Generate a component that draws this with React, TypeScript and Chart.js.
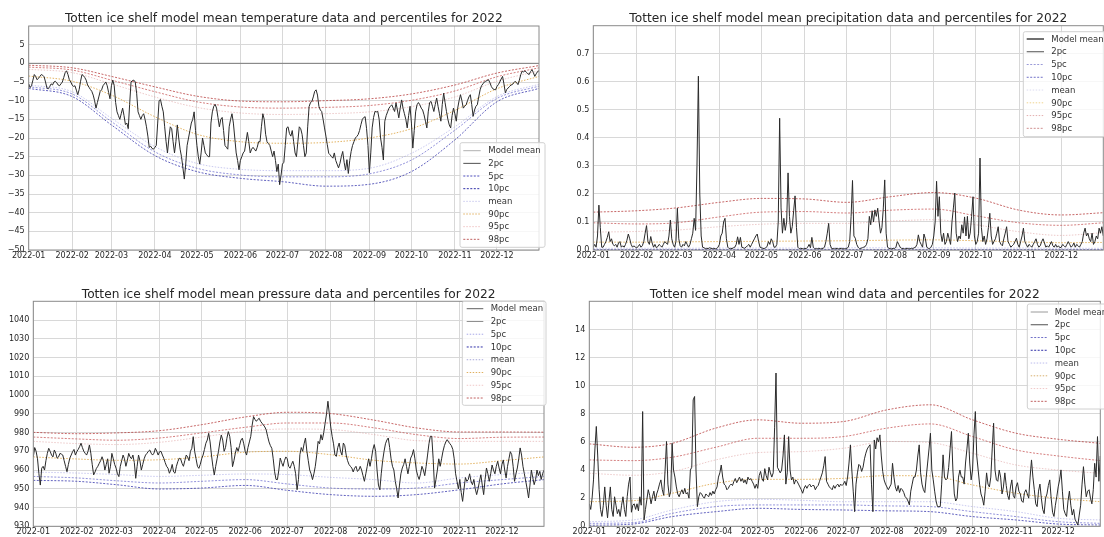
import React, { useEffect, useRef } from 'react';
import { Chart, registerables } from 'chart.js';

Chart.register(...registerables);

// ---- shared axis data ----
const MONTH_DAYS = [0, 31, 59, 90, 120, 151, 181, 212, 243, 273, 304, 334];
const MONTH_LABELS = ['2022-01', '2022-02', '2022-03', '2022-04', '2022-05', '2022-06', '2022-07', '2022-08', '2022-09', '2022-10', '2022-11', '2022-12'];
// days at which the climatology curves are sampled (1st of each month + 31 Dec)
const CURVE_DAYS = [0, 31, 59, 90, 120, 151, 181, 212, 243, 273, 304, 334, 364];
const LEGEND_LABELS = ['Model mean', '2pc', '5pc', '10pc', 'mean', '90pc', '95pc', '98pc'];

// ---- temperature ----
const TEMP_TICKS = [5, 0, -5, -10, -15, -20, -25, -30, -35, -40, -45, -50];
const TEMP_DAILY = [
  -5.5, -6.5, -6.0, -4.5, -3.0, -3.5, -4.4, -4.0, -3.5, -3.0,
  -3.2, -3.6, -5.0, -6.6, -6.8, -6.2, -5.5, -5.8, -5.0, -4.8,
  -5.2, -5.8, -6.0, -5.5, -5.0, -3.8, -2.5, -2.0, -3.0, -4.4,
  -5.0, -5.8, -6.2, -6.0, -7.2, -8.4, -7.0, -4.8, -3.0, -3.3,
  -3.8, -4.5, -5.8, -6.4, -7.0, -7.5, -8.5, -10.0, -12.0, -10.5,
  -9.0, -7.5, -7.1, -6.0, -5.5, -5.0, -6.0, -7.8, -9.5, -6.0,
  -4.5, -6.0, -10.5, -13.0, -14.0, -15.0, -13.5, -12.0, -14.0, -16.4,
  -16.0, -17.5, -11.0, -5.0, -4.6, -4.5, -5.0, -8.0, -13.0, -14.0,
  -15.0, -14.0, -13.5, -15.0, -17.0, -19.5, -22.5, -22.2, -22.8, -23.0,
  -22.5, -22.0, -16.0, -10.0, -9.7, -11.5, -13.0, -17.0, -21.0, -24.0,
  -20.0, -17.0, -17.5, -21.0, -24.0, -21.0, -16.5, -20.0, -23.0, -25.0,
  -28.0, -31.0, -27.0, -22.0, -20.0, -18.0, -16.0, -15.0, -13.0, -18.0,
  -22.0, -25.0, -27.0, -24.0, -20.0, -22.0, -24.0, -24.5, -25.0, -25.0,
  -16.0, -13.0, -11.5, -11.0, -12.0, -14.5, -17.0, -15.0, -14.5, -18.0,
  -22.0, -22.5, -23.0, -17.0, -15.0, -13.5, -16.0, -20.0, -24.0, -26.0,
  -28.5, -26.0, -25.0, -24.0, -23.5, -21.0, -18.5, -21.0, -24.0, -23.0,
  -22.5, -23.0, -23.5, -22.5, -21.0, -21.0, -17.0, -13.5, -15.0, -19.0,
  -21.0, -21.5, -22.0, -23.5, -25.0, -23.5, -26.0, -29.0, -27.0, -32.5,
  -30.0, -27.0, -26.5, -22.0, -17.3, -17.0, -18.8, -19.5, -18.0, -21.0,
  -24.0, -25.0, -21.0, -17.0, -17.5, -19.0, -22.0, -25.0, -24.0, -17.0,
  -11.6, -10.5, -10.2, -9.0, -7.5, -7.1, -8.5, -11.5, -12.5, -12.9,
  -15.0, -17.3, -19.5, -21.8, -24.1, -24.5, -25.0, -25.4, -24.0, -26.0,
  -27.0, -28.0, -26.8, -25.0, -23.6, -26.5, -28.6, -25.8, -29.5, -26.0,
  -23.6, -22.0, -21.0, -20.0, -19.6, -19.1, -18.0, -16.4, -15.0, -14.5,
  -14.3, -17.5, -22.0, -29.3, -24.0, -17.3, -14.5, -12.9, -13.0, -12.9,
  -15.0, -20.0, -22.5, -25.9, -15.5, -14.0, -13.0, -12.0, -11.5, -11.1,
  -12.0, -12.9, -10.6, -12.5, -14.6, -12.0, -9.8, -12.0, -13.5, -15.0,
  -17.3, -14.0, -11.5, -16.0, -22.7, -18.0, -13.0, -11.1, -10.5, -11.1,
  -12.0, -12.5, -13.8, -15.5, -17.3, -13.0, -10.5, -10.2, -11.5, -12.9,
  -11.0, -9.3, -11.5, -13.5, -15.5, -11.0, -8.0, -10.5, -12.9, -15.0,
  -16.5, -17.3, -14.0, -12.0, -13.5, -15.5, -12.0, -10.0, -8.4, -10.0,
  -12.0, -11.5, -11.1, -10.0, -9.0, -8.4, -11.0, -14.2, -12.5, -11.5,
  -11.1, -9.0, -7.1, -6.0, -5.5, -5.0, -4.8, -4.6, -4.4, -5.2,
  -6.2, -6.8, -7.0, -7.1, -6.2, -5.7, -5.0, -4.2, -3.5, -5.5,
  -7.9, -7.0, -6.6, -6.2, -5.8, -5.7, -5.2, -4.8, -5.2, -5.7,
  -4.5, -3.0, -2.1, -2.3, -2.0, -2.4, -2.8, -3.0, -2.2, -1.7,
  -2.5, -3.5, -2.8, -2.2, -2.0,
];
const TEMP_P2 = [-6.7, -8.9, -16.5, -24.7, -29.0, -30.8, -31.7, -32.9, -32.4, -29.0, -20.5, -10.3, -6.7];
const TEMP_P5 = [-6.25, -8.2, -15.6, -23.7, -28.1, -29.9, -30.4, -30.4, -29.6, -25.9, -17.9, -9.4, -6.1];
const TEMP_P10 = [-5.8, -7.6, -14.7, -22.3, -26.8, -28.4, -28.75, -28.75, -28.1, -24.1, -17.0, -8.9, -5.6];
const TEMP_MEAN = [-3.4, -4.8, -8.5, -14.3, -19.0, -21.0, -21.4, -21.2, -20.0, -17.5, -12.6, -6.8, -3.5];
const TEMP_P90 = [-1.6, -2.5, -5.5, -9.0, -11.8, -13.3, -13.7, -13.5, -13.0, -11.6, -9.0, -4.8, -2.0];
const TEMP_P95 = [-1.0, -1.8, -4.5, -7.6, -10.3, -11.7, -12.0, -11.8, -11.3, -9.9, -7.4, -3.6, -1.2];
const TEMP_P98 = [-0.5, -1.2, -3.5, -6.3, -8.8, -10.1, -10.3, -10.0, -9.5, -8.2, -5.8, -2.6, -0.6];

// ---- precipitation ----
const PRECIP_TICKS = [0, 0.1, 0.2, 0.3, 0.4, 0.5, 0.6, 0.7];
const PRECIP_DAILY = [
  0.01, 0.02, 0.01, 0.05, 0.16, 0.08, 0.01, 0.01, 0.02, 0.03,
  0.045, 0.065, 0.03, 0.04, 0.02, 0.015, 0.02, 0.01, 0.025, 0.03,
  0.01, 0.015, 0.01, 0.02, 0.035, 0.057, 0.04, 0.02, 0.01, 0.015,
  0.01, 0.008, 0.012, 0.02, 0.01, 0.015, 0.03, 0.06, 0.087, 0.03,
  0.02, 0.048, 0.025, 0.01, 0.02, 0.008, 0.012, 0.02, 0.015, 0.01,
  0.02, 0.03, 0.025, 0.02, 0.05, 0.107, 0.04, 0.02, 0.01, 0.03,
  0.149, 0.04, 0.015, 0.01, 0.02, 0.015, 0.03, 0.02, 0.01, 0.02,
  0.04, 0.06, 0.113, 0.07, 0.3, 0.62, 0.2, 0.05, 0.01, 0.008,
  0.005, 0.006, 0.005, 0.008, 0.006, 0.005, 0.006, 0.004, 0.005, 0.01,
  0.02, 0.05, 0.06, 0.1, 0.113, 0.04, 0.01, 0.005, 0.006, 0.005,
  0.008, 0.01, 0.02, 0.047, 0.02, 0.045, 0.01, 0.008, 0.006, 0.01,
  0.015, 0.02, 0.01, 0.02, 0.03, 0.04, 0.05, 0.057, 0.03, 0.01,
  0.008, 0.006, 0.005, 0.008, 0.012, 0.03, 0.02, 0.04, 0.03, 0.01,
  0.01, 0.02, 0.1, 0.47, 0.15, 0.06, 0.113, 0.07, 0.1, 0.275,
  0.12, 0.06, 0.083, 0.14, 0.193, 0.08, 0.01, 0.005, 0.006, 0.005,
  0.004, 0.006, 0.005, 0.01, 0.02, 0.008, 0.045, 0.01, 0.005, 0.004,
  0.005, 0.006, 0.004, 0.005, 0.006, 0.01, 0.03, 0.06, 0.095, 0.02,
  0.006, 0.005, 0.004, 0.006, 0.005, 0.004, 0.005, 0.006, 0.005, 0.004,
  0.005, 0.006, 0.01, 0.03, 0.12, 0.248, 0.05, 0.042, 0.02, 0.01,
  0.005, 0.006, 0.008, 0.01, 0.012, 0.02, 0.04, 0.12, 0.09, 0.14,
  0.1, 0.143, 0.12, 0.149, 0.1, 0.06, 0.08, 0.15, 0.25, 0.06,
  0.01, 0.006, 0.005, 0.004, 0.006, 0.005, 0.01, 0.03, 0.02, 0.01,
  0.006, 0.005, 0.004, 0.005, 0.006, 0.005, 0.004, 0.006, 0.005, 0.008,
  0.01, 0.02, 0.054, 0.03, 0.02, 0.01, 0.057, 0.04, 0.01, 0.006,
  0.005, 0.01, 0.02, 0.05, 0.1, 0.245, 0.12, 0.19, 0.06, 0.03,
  0.06, 0.02, 0.03, 0.06, 0.04, 0.02, 0.1, 0.15, 0.203, 0.06,
  0.03, 0.05, 0.04, 0.09, 0.06, 0.118, 0.05, 0.12, 0.04, 0.06,
  0.12, 0.19, 0.05, 0.02, 0.03, 0.06, 0.328, 0.08, 0.03, 0.05,
  0.02, 0.04, 0.08, 0.131, 0.05, 0.02, 0.03, 0.04, 0.06, 0.083,
  0.03, 0.02, 0.015, 0.04, 0.06, 0.083, 0.03, 0.02, 0.01, 0.015,
  0.02, 0.03, 0.042, 0.02, 0.01, 0.03, 0.05, 0.078, 0.03, 0.02,
  0.01, 0.02, 0.015, 0.01, 0.02, 0.03, 0.04, 0.02, 0.01, 0.015,
  0.03, 0.04, 0.025, 0.01, 0.015, 0.01, 0.02, 0.03, 0.015, 0.01,
  0.02, 0.01, 0.015, 0.008, 0.01, 0.02, 0.015, 0.01, 0.02, 0.03,
  0.02, 0.01, 0.015, 0.025, 0.01, 0.02, 0.015, 0.01, 0.02, 0.03,
  0.06, 0.078, 0.05, 0.06, 0.04, 0.03, 0.06, 0.02, 0.03, 0.05,
  0.04, 0.078, 0.06, 0.083, 0.05,
];
const PRECIP_P2 = [0, 0, 0, 0, 0, 0, 0, 0, 0, 0, 0, 0, 0];
const PRECIP_P5 = [0.002, 0.002, 0.002, 0.002, 0.002, 0.002, 0.002, 0.002, 0.002, 0.002, 0.002, 0.002, 0.002];
const PRECIP_P10 = [0.006, 0.006, 0.006, 0.007, 0.007, 0.007, 0.008, 0.008, 0.008, 0.007, 0.007, 0.006, 0.006];
const PRECIP_MEAN = [0.028, 0.028, 0.029, 0.03, 0.031, 0.032, 0.033, 0.035, 0.036, 0.033, 0.029, 0.026, 0.027];
const PRECIP_P90 = [0.064, 0.066, 0.071, 0.083, 0.092, 0.095, 0.095, 0.103, 0.108, 0.09, 0.065, 0.052, 0.062];
const PRECIP_P95 = [0.097, 0.093, 0.097, 0.118, 0.135, 0.137, 0.132, 0.142, 0.146, 0.122, 0.097, 0.088, 0.097];
const PRECIP_P98 = [0.135, 0.14, 0.15, 0.17, 0.184, 0.182, 0.17, 0.19, 0.205, 0.185, 0.142, 0.125, 0.133];

// ---- pressure ----
const PRESSURE_TICKS = [930, 940, 950, 960, 970, 980, 990, 1000, 1010, 1020, 1030, 1040];
const PRESSURE_DAILY = [
  967, 972, 970, 966, 958, 952, 961, 962, 960, 965,
  968.9, 971.6, 970, 968, 967, 970.7, 969, 966.3, 967, 968.9,
  968.5, 968, 965, 962, 959.1, 963, 966.3, 968, 969.8, 971,
  968, 969.8, 971, 972.5, 974.3, 972, 970, 968.9, 968, 970,
  973.4, 969, 963, 957.4, 959, 960.9, 962, 963.6, 965, 967.1,
  965, 960, 963, 966, 958.3, 962, 968.9, 966, 963, 961,
  958, 956.5, 962, 965, 968, 966, 962, 965, 968.9, 967,
  966, 968, 964, 955.6, 962, 968, 965, 960, 963, 966,
  968, 968.9, 970, 970.7, 969, 968, 969, 971.6, 970, 968,
  969.8, 970, 968, 966.3, 964, 962, 961, 958.3, 960, 963,
  959, 958.3, 962, 964.5, 966.3, 966, 963.6, 962, 965, 968,
  967, 965, 970, 971.6, 977.8, 970, 966, 962, 960.9, 963,
  966, 968, 971, 974.3, 976, 979.6, 975, 968, 962, 957.4,
  962, 966, 970, 975, 978.7, 976, 970, 972, 977, 980.5,
  978, 972, 961.8, 965, 969, 972, 970, 973, 976, 977,
  974, 970, 968, 972, 975, 978, 984, 988.5, 987, 986,
  987, 987.6, 986, 985, 984, 983, 981.4, 978, 975, 973,
  971.6, 966, 959.1, 955, 954.9, 960, 966.4, 964, 962, 965,
  967, 966, 962, 961, 963, 964.7, 962, 958, 949.5, 955,
  968.2, 972, 970, 974, 977.1, 970, 965, 960, 958, 954.9,
  958, 962, 968, 975.3, 974, 978.9, 976, 980, 985, 990,
  996.7, 990, 983, 978, 974, 968, 967.3, 972, 974.4, 970,
  968, 974.4, 973, 968, 965, 963, 962, 961.1, 959, 961,
  962, 959.3, 960, 962, 960, 957, 954, 958, 962, 966,
  962, 966, 970.9, 973.6, 970, 960, 952, 949.5, 958, 965,
  970, 974, 976, 977.1, 972, 966, 962, 960, 954, 950,
  945.1, 952, 958, 961.1, 963, 966, 962, 958, 962, 966.4,
  968, 970.9, 966, 960, 957, 955, 958, 962, 960, 957,
  962, 968, 974, 978, 978, 966, 950.4, 955, 960, 966,
  962, 966, 970, 973, 975, 976.2, 975, 974, 973, 971,
  966, 958, 954, 950, 955, 948, 943.3, 950, 956, 954,
  954.9, 958, 954, 952.2, 955, 950, 946.9, 950, 954, 957.5,
  952, 946.9, 955, 961.1, 958, 954, 958, 962.7, 960, 958,
  962, 964.7, 961.1, 958, 962.9, 965.4, 960, 955.8, 962, 966,
  969.8, 968.2, 962, 954, 958, 961.1, 966, 971.8, 968, 962,
  958, 954, 950, 945.1, 952, 960, 956, 952.2, 955, 960,
  957, 959.3, 955, 958, 960,
];
const PRESSURE_P2 = [954.5, 954.0, 952.2, 949.9, 950.4, 951.8, 949.2, 946.9, 946.0, 946.9, 949.5, 952.6, 954.9];
const PRESSURE_P5 = [956.6, 955.8, 954.3, 953.1, 954.0, 954.9, 952.6, 950.4, 949.9, 950.4, 953.1, 954.9, 956.6];
const PRESSURE_P10 = [958.9, 958.4, 957.6, 956.6, 957.2, 957.9, 957.6, 956.1, 954.9, 953.1, 955.8, 957.6, 958.9];
const PRESSURE_MEAN = [967.0, 965.9, 965.2, 965.5, 967.0, 969.5, 970.0, 968.2, 965.2, 963.8, 963.2, 965.0, 967.0];
const PRESSURE_P90 = [975.3, 974.1, 973.6, 974.8, 977.6, 980.7, 981.9, 981.6, 978.9, 975.7, 975.3, 975.3, 975.3];
const PRESSURE_P95 = [977.6, 976.6, 975.9, 977.1, 979.8, 982.8, 985.1, 985.1, 982.5, 978.9, 976.8, 977.5, 977.6];
const PRESSURE_P98 = [980.1, 979.4, 979.8, 981.0, 984.2, 988.3, 990.8, 990.1, 986.6, 982.5, 980.3, 980.3, 980.2];

// ---- wind ----
const WIND_TICKS = [0, 2, 4, 6, 8, 10, 12, 14];
const WIND_DAILY = [
  1.6, 1.2, 2.0, 3.3, 5.5, 7.1, 5.0, 2.6, 1.2, 0.7,
  1.5, 2.8, 1.5, 0.6, 1.8, 2.8, 1.2, 0.7, 2.1, 1.5,
  0.9, 1.2, 0.7, 1.5, 2.1, 1.2, 0.7, 2.1, 3.0, 3.5,
  1.0, 1.5, 1.6, 1.2, 1.6, 1.1, 2.1, 1.5, 8.16, 0.45,
  1.2, 1.9, 2.6, 2.2, 1.6, 2.1, 2.5, 1.8, 2.3, 2.6,
  3.0, 3.3, 2.6, 2.2, 4.0, 6.03, 3.0, 2.1, 2.5, 5.9,
  4.0, 3.5, 2.8, 2.3, 2.1, 2.4, 2.6, 2.3, 2.7, 2.3,
  2.4, 2.0, 4.0, 4.2, 8.99, 9.23, 4.0, 1.4, 2.1, 2.4,
  2.3, 2.1, 2.0, 2.3, 2.2, 2.1, 2.4, 2.2, 2.5, 2.3,
  2.6, 2.8, 3.5, 3.8, 4.36, 3.5, 3.0, 2.9, 2.6, 2.7,
  2.9, 3.0, 2.9, 3.2, 3.4, 3.1, 3.3, 3.5, 3.2, 3.4,
  3.1, 3.3, 3.0, 3.5, 3.3, 3.4, 3.2, 3.0, 2.7, 3.0,
  2.7, 3.6, 3.9, 3.4, 3.2, 4.1, 3.6, 3.3, 4.2, 3.8,
  3.5, 3.8, 7.0, 10.9, 4.2, 4.0, 3.8, 4.0, 5.0, 6.5,
  3.0, 3.8, 6.38, 4.0, 3.3, 3.5, 3.0, 3.3, 3.2, 3.0,
  2.8, 2.6, 2.35, 2.7, 2.9, 2.7, 2.9, 3.0, 2.8, 2.9,
  2.9, 2.6, 2.8, 2.9, 3.2, 3.5, 3.8, 4.3, 4.96, 3.2,
  3.0, 2.8, 2.7, 2.6, 2.9, 2.7, 2.9, 3.0, 2.8, 3.0,
  2.9, 3.0, 3.2, 2.9, 3.5, 4.5, 5.79, 4.0, 2.5, 1.04,
  3.0, 3.8, 4.4, 4.3, 3.9, 4.2, 4.8, 5.2, 5.5, 5.67,
  5.8, 3.0, 1.04, 6.14, 5.5, 6.3, 6.0, 6.5, 5.0, 3.9,
  3.3, 3.0, 2.8, 2.6, 2.8, 3.0, 4.48, 3.5, 2.8, 2.5,
  2.9, 2.4, 2.7, 2.6, 2.4, 2.1, 2.0, 1.8, 1.52, 2.5,
  3.0, 3.5, 3.5, 4.0, 5.0, 5.79, 3.8, 3.0, 2.6, 2.4,
  3.5, 4.5, 5.5, 6.62, 4.0, 3.3, 2.5, 1.8, 1.4, 1.4,
  1.4, 3.0, 5.08, 3.5, 3.3, 3.4, 4.2, 5.5, 6.74, 4.0,
  2.3, 1.8, 2.0, 3.5, 4.0, 3.5, 3.5, 3.0, 4.5, 5.5,
  6.62, 4.5, 3.3, 4.0, 6.5, 8.16, 5.0, 4.0, 3.0, 2.3,
  2.0, 1.5, 2.5, 3.8, 3.0, 2.8, 3.5, 5.5, 7.33, 4.0,
  3.3, 3.2, 4.0, 3.5, 2.3, 2.8, 3.8, 2.9, 2.2, 1.9,
  2.8, 3.3, 2.2, 2.0, 2.8, 3.1, 2.5, 2.3, 1.8, 1.7,
  2.4, 2.6, 2.3, 2.0, 3.5, 4.72, 3.5, 2.6, 1.6, 1.4,
  2.5, 3.0, 2.0, 1.2, 0.9, 2.0, 2.3, 2.9, 3.3, 2.0,
  1.0, 0.7, 1.5, 2.1, 2.8, 3.3, 4.01, 2.5, 1.2, 0.9,
  0.7, 1.8, 2.5, 1.5, 0.8, 1.2, 0.5, 0.3, 0.09, 0.8,
  1.5, 3.0, 4.24, 3.0, 2.1, 2.5, 2.6, 2.0, 1.6, 2.6,
  4.48, 3.5, 6.38, 3.2, 5.0,
];
const WIND_P2 = [0.07, 0.16, 0.69, 1.04, 1.28, 1.2, 1.16, 1.1, 1.04, 0.69, 0.45, 0.16, 0.09];
const WIND_P5 = [0.21, 0.26, 0.92, 1.4, 1.52, 1.52, 1.52, 1.45, 1.4, 1.04, 0.69, 0.33, 0.21];
const WIND_P10 = [0.33, 0.45, 1.16, 1.75, 1.92, 1.85, 1.75, 1.75, 1.75, 1.4, 1.04, 0.57, 0.45];
const WIND_MEAN = [1.75, 1.82, 2.35, 3.06, 3.34, 3.34, 3.41, 3.6, 3.58, 2.94, 2.35, 1.99, 1.75];
const WIND_P90 = [3.77, 3.63, 3.89, 4.72, 5.24, 5.31, 5.55, 6.03, 5.95, 5.19, 4.36, 4.0, 3.77];
const WIND_P95 = [4.72, 4.67, 4.91, 5.62, 6.26, 6.26, 6.38, 6.98, 7.28, 6.38, 5.43, 5.0, 4.67];
const WIND_P98 = [5.86, 5.62, 5.9, 6.98, 7.57, 7.33, 7.45, 8.28, 8.64, 7.57, 6.62, 6.19, 5.9];

// ---- styling ----
const FONT = '"DejaVu Sans", "Liberation Sans", sans-serif';
const TEXT = '#262626';
const GRID = '#d8d8d8';

// line styles of the percentile curves, lowest to highest
const CURVE_STYLES = [
  { color: 'rgba(45,45,170,0.75)', dash: [2, 1.5] },
  { color: 'rgba(75,75,195,0.6)', dash: [2, 1.5] },
  { color: 'rgba(150,150,225,0.5)', dash: [1.5, 1.5] },
  { color: 'rgba(220,160,60,0.8)', dash: [1.5, 1.5] },
  { color: 'rgba(220,150,150,0.5)', dash: [1.5, 1.5] },
  { color: 'rgba(190,60,60,0.65)', dash: [2, 1.5] },
  { color: 'rgba(175,40,40,0.7)', dash: [2, 1.5] },
];

type LegendStyle = { color: string; dash: number[]; width: number };
type LegendBox = { x: number; y: number; w: number; h: number; row0: number; gap: number; lx0: number; lx1: number; tx: number };
type PanelCfg = {
  title: string;
  box: { x: number; y: number; w: number; h: number };
  area: { l: number; t: number; r: number; b: number };
  titleY: number;
  yMin: number;
  yMax: number;
  yTicks: number[];
  yFmt: (v: number) => string;
  daily: number[];
  curves: number[][];
  legend: LegendBox;
  legendStyles: LegendStyle[];
  zeroLine?: boolean;
};

const fmtInt = (v: number) => String(v).replace('-', '\u2212');
const fmt1 = (v: number) => v.toFixed(1);

const PANELS: PanelCfg[] = [
  {
    title: 'Totten ice shelf model mean temperature data and percentiles for 2022',
    box: { x: 0, y: 0, w: 552, h: 268 },
    area: { l: 28.7, t: 26, r: 539, b: 250 },
    titleY: 22.2,
    yMin: -50, yMax: 10, yTicks: TEMP_TICKS, yFmt: fmtInt,
    daily: TEMP_DAILY,
    curves: [TEMP_P2, TEMP_P5, TEMP_P10, TEMP_MEAN, TEMP_P90, TEMP_P95, TEMP_P98],
    legend: { x: 460, y: 142.7, w: 85, h: 104.6, row0: 150.7, gap: 12.66, lx0: 463.3, lx1: 480.7, tx: 488.3 },
    legendStyles: [
      { color: '#b0b0b0', dash: [], width: 1 },
      { color: '#505050', dash: [], width: 1 },
      { color: '#5050c0', dash: [2, 1.5], width: 1 },
      { color: '#3030a8', dash: [2, 1.5], width: 1 },
      { color: '#c8c8ee', dash: [1.5, 1.5], width: 1 },
      { color: '#e0b060', dash: [1.5, 1.5], width: 1 },
      { color: '#f0c4c4', dash: [1.5, 1.5], width: 1 },
      { color: '#c06060', dash: [2, 1.5], width: 1 },
    ],
    zeroLine: true,
  },
  {
    title: 'Totten ice shelf model mean precipitation data and percentiles for 2022',
    box: { x: 552, y: 0, w: 552, h: 268 },
    area: { l: 41.3, t: 25.7, r: 551.3, b: 250 },
    titleY: 22.2,
    yMin: 0, yMax: 0.8, yTicks: PRECIP_TICKS, yFmt: fmt1,
    daily: PRECIP_DAILY,
    curves: [PRECIP_P2, PRECIP_P5, PRECIP_P10, PRECIP_MEAN, PRECIP_P90, PRECIP_P95, PRECIP_P98],
    legend: { x: 471.3, y: 31.7, w: 100, h: 105, row0: 39, gap: 12.76, lx0: 474.7, lx1: 492, tx: 499.3 },
    legendStyles: [
      { color: '#404040', dash: [], width: 1.5 },
      { color: '#505050', dash: [], width: 1 },
      { color: '#9a9ad8', dash: [2, 1.5], width: 1 },
      { color: '#7070c8', dash: [2, 1.5], width: 1 },
      { color: '#dcdcf0', dash: [1.5, 1.5], width: 1 },
      { color: '#f0d490', dash: [1.5, 1.5], width: 1 },
      { color: '#e4b0b0', dash: [1.5, 1.5], width: 1 },
      { color: '#d09090', dash: [2, 1.5], width: 1 },
    ],
  },
  {
    title: 'Totten ice shelf model mean pressure data and percentiles for 2022',
    box: { x: 0, y: 268, w: 552, h: 269 },
    area: { l: 33.3, t: 33.3, r: 544, b: 258.3 },
    titleY: 29.8,
    yMin: 930, yMax: 1050, yTicks: PRESSURE_TICKS, yFmt: fmtInt,
    daily: PRESSURE_DAILY,
    curves: [PRESSURE_P2, PRESSURE_P5, PRESSURE_P10, PRESSURE_MEAN, PRESSURE_P90, PRESSURE_P95, PRESSURE_P98],
    legend: { x: 462.3, y: 33.3, w: 83.7, h: 104, row0: 40.7, gap: 12.76, lx0: 466.7, lx1: 483.3, tx: 490.7 },
    legendStyles: [
      { color: '#606060', dash: [], width: 1 },
      { color: '#8a8a8a', dash: [], width: 1 },
      { color: '#a8a8e8', dash: [1.5, 1.5], width: 1 },
      { color: '#3030a8', dash: [2, 1.5], width: 1 },
      { color: '#a8a8d8', dash: [1.5, 1.5], width: 1 },
      { color: '#e0b060', dash: [1.5, 1.5], width: 1 },
      { color: '#f0c8c8', dash: [1.5, 1.5], width: 1 },
      { color: '#c06060', dash: [2, 1.5], width: 1 },
    ],
  },
  {
    title: 'Totten ice shelf model mean wind data and percentiles for 2022',
    box: { x: 552, y: 268, w: 552, h: 269 },
    area: { l: 37.3, t: 33.3, r: 548.3, b: 258.3 },
    titleY: 29.8,
    yMin: 0, yMax: 16, yTicks: WIND_TICKS, yFmt: fmtInt,
    daily: WIND_DAILY,
    curves: [WIND_P2, WIND_P5, WIND_P10, WIND_MEAN, WIND_P90, WIND_P95, WIND_P98],
    legend: { x: 475.3, y: 36, w: 100, h: 105, row0: 44, gap: 12.76, lx0: 478.7, lx1: 496, tx: 502.7 },
    legendStyles: [
      { color: '#9a9a9a', dash: [], width: 1 },
      { color: '#505050', dash: [], width: 1 },
      { color: '#7070c8', dash: [2, 1.5], width: 1 },
      { color: '#3030a8', dash: [2, 1.5], width: 1 },
      { color: '#bcbcec', dash: [1.5, 1.5], width: 1 },
      { color: '#d8b070', dash: [1.5, 1.5], width: 1 },
      { color: '#f0c8c8', dash: [1.5, 1.5], width: 1 },
      { color: '#c06060', dash: [2, 1.5], width: 1 },
    ],
  },
];

function decorPlugin(cfg: PanelCfg) {
  return {
    id: 'panelDecor',
    beforeDatasetsDraw(chart: any) {
      if (!cfg.zeroLine) return;
      const { ctx, chartArea: a, scales } = chart;
      const y = scales.y.getPixelForValue(0);
      ctx.save();
      ctx.strokeStyle = '#7a7a7a';
      ctx.lineWidth = 1;
      ctx.beginPath();
      ctx.moveTo(a.left, y);
      ctx.lineTo(a.right, y);
      ctx.stroke();
      ctx.restore();
    },
    afterDatasetsDraw(chart: any) {
      const { ctx, chartArea: a } = chart;
      ctx.save();
      ctx.strokeStyle = '#8a8a8a';
      ctx.lineWidth = 1;
      ctx.strokeRect(a.left, a.top, a.right - a.left, a.bottom - a.top);
      ctx.restore();
    },
    afterDraw(chart: any) {
      const { ctx, chartArea: a } = chart;
      ctx.save();
      // title
      ctx.fillStyle = TEXT;
      ctx.font = `12.2px ${FONT}`;
      ctx.textAlign = 'center';
      ctx.textBaseline = 'alphabetic';
      ctx.fillText(cfg.title, (a.left + a.right) / 2, cfg.titleY);
      // legend frame
      const lg = cfg.legend;
      ctx.fillStyle = 'rgba(255,255,255,0.8)';
      ctx.strokeStyle = '#d0d0d0';
      ctx.lineWidth = 1;
      ctx.beginPath();
      ctx.roundRect(lg.x, lg.y, lg.w, lg.h, 2);
      ctx.fill();
      ctx.stroke();
      // legend entries
      ctx.textAlign = 'left';
      ctx.textBaseline = 'middle';
      ctx.font = `8.5px ${FONT}`;
      LEGEND_LABELS.forEach((label, i) => {
        const st = cfg.legendStyles[i];
        const y = lg.row0 + i * lg.gap;
        ctx.beginPath();
        ctx.setLineDash(st.dash);
        ctx.strokeStyle = st.color;
        ctx.lineWidth = st.width;
        ctx.moveTo(lg.lx0, y);
        ctx.lineTo(lg.lx1, y);
        ctx.stroke();
        ctx.setLineDash([]);
        ctx.fillStyle = '#333333';
        ctx.fillText(label, lg.tx, y + 0.5);
      });
      ctx.restore();
    },
  };
}

function Panel({ cfg }: { cfg: PanelCfg }) {
  const ref = useRef<HTMLCanvasElement | null>(null);

  useEffect(() => {
    if (!ref.current) return;
    const { box, area } = cfg;
    const datasets: any[] = [
      {
        label: 'Model mean',
        data: cfg.daily.map((v, i) => ({ x: i, y: v })),
        borderColor: '#2a2a2a',
        borderWidth: 1,
        pointRadius: 0,
        tension: 0,
      },
    ];
    cfg.curves.forEach((c, k) => {
      datasets.push({
        label: LEGEND_LABELS[k + 1],
        data: c.map((v, i) => ({ x: CURVE_DAYS[i], y: v })),
        borderColor: CURVE_STYLES[k].color,
        borderDash: CURVE_STYLES[k].dash,
        borderWidth: 1,
        pointRadius: 0,
        cubicInterpolationMode: 'monotone',
      });
    });

    const chart = new Chart(ref.current, {
      type: 'line',
      data: { datasets },
      options: {
        animation: false,
        responsive: false,
        events: [],
        layout: { padding: { left: 0, top: area.t, right: box.w - area.r, bottom: 0 } },
        plugins: { legend: { display: false }, title: { display: false }, tooltip: { enabled: false } },
        scales: {
          x: {
            type: 'linear',
            min: 0,
            max: 364,
            border: { display: false },
            grid: { color: GRID, lineWidth: 1, drawTicks: false },
            ticks: {
              autoSkip: false,
              maxRotation: 0,
              padding: 1,
              color: TEXT,
              font: { family: FONT, size: 8 },
              callback: (_v: any, i: number) => MONTH_LABELS[i],
            },
            afterBuildTicks: (s: any) => {
              s.ticks = MONTH_DAYS.map((d) => ({ value: d }));
            },
            afterFit: (s: any) => {
              s.height = box.h - area.b;
            },
          },
          y: {
            type: 'linear',
            min: cfg.yMin,
            max: cfg.yMax,
            border: { display: false },
            grid: { color: GRID, lineWidth: 1, drawTicks: false },
            ticks: {
              padding: 4,
              color: TEXT,
              font: { family: FONT, size: 8 },
              callback: (v: any) => cfg.yFmt(Number(v)),
            },
            afterBuildTicks: (s: any) => {
              s.ticks = cfg.yTicks.map((v) => ({ value: v }));
            },
            afterFit: (s: any) => {
              s.width = area.l;
            },
          },
        },
      } as any,
      plugins: [decorPlugin(cfg)],
    });
    return () => chart.destroy();
  }, [cfg]);

  return (
    <canvas
      ref={ref}
      width={cfg.box.w}
      height={cfg.box.h}
      style={{ position: 'absolute', left: cfg.box.x, top: cfg.box.y, width: cfg.box.w, height: cfg.box.h }}
    />
  );
}

export default function App() {
  return (
    <div style={{ position: 'absolute', left: 0, top: 0, width: 1104, height: 537, background: '#ffffff', overflow: 'hidden' }}>
      {PANELS.map((p) => (
        <Panel key={p.title} cfg={p} />
      ))}
    </div>
  );
}
